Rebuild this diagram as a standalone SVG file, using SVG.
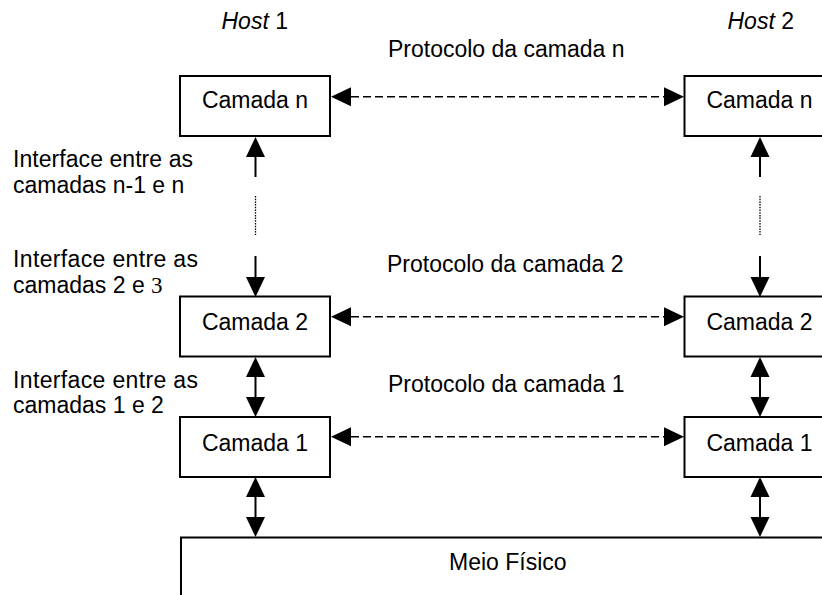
<svg xmlns="http://www.w3.org/2000/svg" width="822" height="595" viewBox="0 0 822 595">
  <style>
    text { font-family: "Liberation Sans", Arial, sans-serif; font-size: 23px; fill: #000; }
    .c { text-anchor: middle; }
    .box { fill: #fff; stroke: #000; stroke-width: 2; }
    .link { stroke: #000; stroke-width: 2; fill: none; }
    .peer { stroke: #000; stroke-width: 1.6; stroke-dasharray: 8 4; fill: none; }
    .dots { stroke: #000; stroke-width: 1.3; stroke-dasharray: 1.5 1.2; fill: none; }
  </style>
  <defs>
    <marker id="head" markerUnits="userSpaceOnUse" markerWidth="20" markerHeight="20" viewBox="0 0 20 20" refX="0" refY="10" orient="auto-start-reverse">
      <path d="M0,0.5 L20,10 L0,19.5 Z" fill="#000"/>
    </marker>
  </defs>

  <rect width="822" height="595" fill="#fff"/>

  <!-- headings -->
  <g id="host1"><text x="221.5" y="29"><tspan font-style="italic">Host</tspan> 1</text></g>
  <g id="host2"><text x="727.5" y="29"><tspan font-style="italic">Host</tspan> 2</text></g>

  <g id="labels">
    <text x="388" y="57">Protocolo da camada n</text>
    <text x="387" y="272">Protocolo da camada 2</text>
    <text x="388" y="392">Protocolo da camada 1</text>
    <text x="13" y="167" textLength="180">Interface entre as</text>
    <text x="13" y="193">camadas n-1 e n</text>
    <text x="13" y="267" textLength="185">Interface entre as</text>
    <text x="13" y="293">camadas 2 e <tspan font-family="'Liberation Serif', serif">3</tspan></text>
    <text x="13" y="388" textLength="185">Interface entre as</text>
    <text x="13" y="413">camadas 1 e 2</text>
  </g>

  <!-- layers of host 1 -->
  <g id="h1-camada-n"><rect class="box" x="180" y="76" width="150" height="60"/><text class="c" x="255" y="108">Camada n</text></g>
  <g id="h1-camada-2"><rect class="box" x="180" y="296.5" width="150" height="60"/><text class="c" x="255" y="330">Camada 2</text></g>
  <g id="h1-camada-1"><rect class="box" x="180" y="417" width="150" height="60"/><text class="c" x="255" y="450.5">Camada 1</text></g>

  <!-- layers of host 2 -->
  <g id="h2-camada-n"><rect class="box" x="684.5" y="76" width="150" height="60"/><text class="c" x="759.5" y="108">Camada n</text></g>
  <g id="h2-camada-2"><rect class="box" x="684.5" y="296.5" width="150" height="60"/><text class="c" x="759.5" y="330">Camada 2</text></g>
  <g id="h2-camada-1"><rect class="box" x="684.5" y="417" width="150" height="60"/><text class="c" x="759.5" y="450.5">Camada 1</text></g>

  <!-- physical medium -->
  <g id="meio-fisico">
    <path class="box" d="M181,600 V537.5 H830 V600"/>
    <text x="449" y="570">Meio Físico</text>
  </g>

  <g id="connectors">
    <!-- peer protocols -->
    <line class="peer" x1="351" y1="96.7" x2="664" y2="96.7" marker-start="url(#head)" marker-end="url(#head)"/>
    <line class="peer" x1="351" y1="316.7" x2="664" y2="316.7" marker-start="url(#head)" marker-end="url(#head)"/>
    <line class="peer" x1="351" y1="436.7" x2="664" y2="436.7" marker-start="url(#head)" marker-end="url(#head)"/>

    <!-- host 1 interfaces -->
    <line class="link" x1="255.5" y1="157" x2="255.5" y2="177" marker-start="url(#head)"/>
    <line class="dots" x1="255.5" y1="196" x2="255.5" y2="235"/>
    <line class="link" x1="255.5" y1="256" x2="255.5" y2="277" marker-end="url(#head)"/>
    <line class="link" x1="255.5" y1="377" x2="255.5" y2="397" marker-start="url(#head)" marker-end="url(#head)"/>
    <line class="link" x1="255.5" y1="497" x2="255.5" y2="517" marker-start="url(#head)" marker-end="url(#head)"/>

    <!-- host 2 interfaces -->
    <line class="link" x1="760" y1="157" x2="760" y2="177" marker-start="url(#head)"/>
    <line class="dots" x1="760" y1="196" x2="760" y2="235"/>
    <line class="link" x1="760" y1="256" x2="760" y2="277" marker-end="url(#head)"/>
    <line class="link" x1="760" y1="377" x2="760" y2="397" marker-start="url(#head)" marker-end="url(#head)"/>
    <line class="link" x1="760" y1="497" x2="760" y2="517" marker-start="url(#head)" marker-end="url(#head)"/>
  </g>
</svg>
